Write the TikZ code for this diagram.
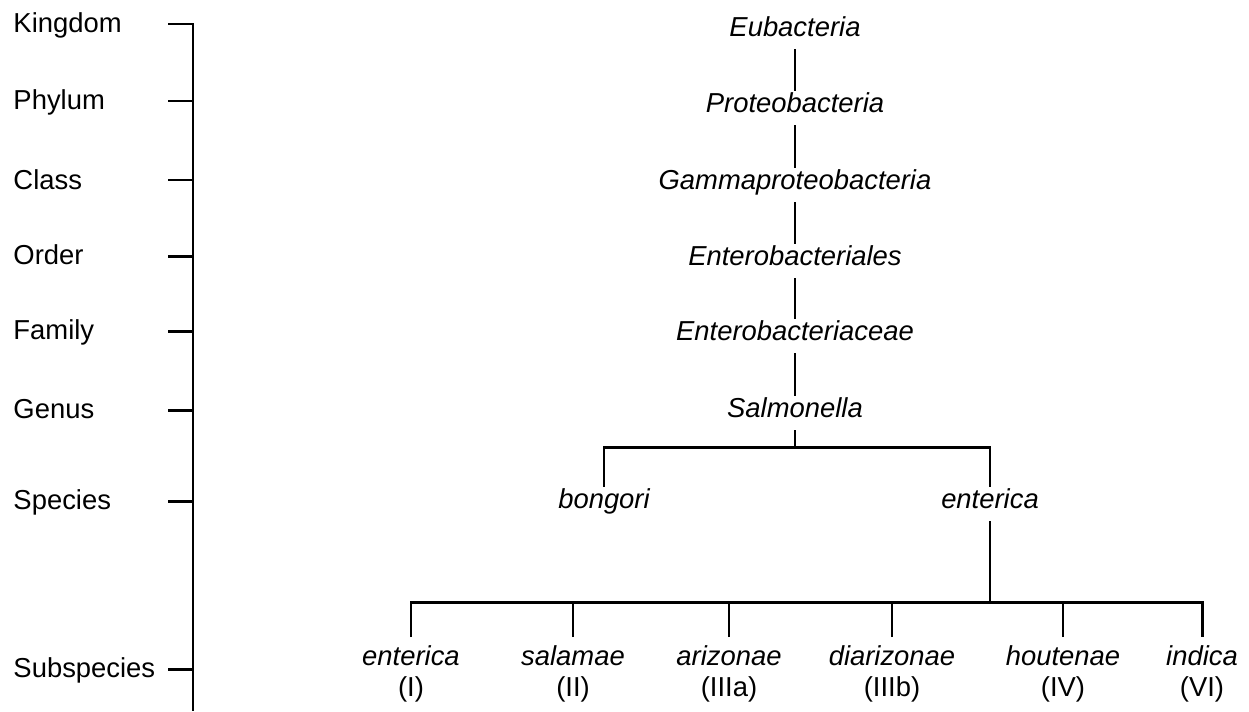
\documentclass[tikz,border=0pt]{standalone}
\usepackage{fontspec}
\setmainfont{Liberation Sans}
\usetikzlibrary{positioning}

\begin{document}
\begin{tikzpicture}[x=0.02cm, y=-0.02cm, line width=1.7pt,
    font=\fontsize{15.6}{17.6}\selectfont,
    rank/.style={anchor=west, inner sep=0pt, text height=0.75em, text depth=0.2em},
    taxon/.style={inner sep=4.2pt, text height=0.75em, text depth=0.2em, font=\fontsize{15.6}{17.6}\selectfont\itshape},
    subsp/.style={anchor=north, inner sep=4pt, align=center}]
  \useasboundingbox (0,0) rectangle (1249,711);
  \draw (168,24) -| (193,711);
  \draw (168,101) -- (193,101);
  \draw (168,180) -- (193,180);
  \draw (168,256) -- (193,256);
  \draw (168,331) -- (193,331);
  \draw (168,410) -- (193,410);
  \draw (168,501) -- (193,501);
  \draw (168,669) -- (193,669);
  \node[rank] (kingdom) at (12,28) {Kingdom};
  \node[rank] (phylum) at (12,105) {Phylum};
  \node[rank] (class) at (12,185) {Class};
  \node[rank] (order) at (12,260) {Order};
  \node[rank] (family) at (12,335) {Family};
  \node[rank] (genus) at (12,414) {Genus};
  \node[rank] (species) at (12,505) {Species};
  \node[rank] (subspecies) at (12,673) {Subspecies};
  \node[taxon] (eubact) at (795,32) {Eubacteria};
  \node[taxon] (proteo) at (795,108) {Proteobacteria};
  \node[taxon] (gamma) at (795,185) {Gammaproteobacteria};
  \node[taxon] (entales) at (795,261) {Enterobacteriales};
  \node[taxon] (entceae) at (795,336) {Enterobacteriaceae};
  \node[taxon] (salm) at (795,413) {Salmonella};
  \node[taxon] (bongori) at (604,504) {bongori};
  \node[taxon] (enterica) at (990,504) {enterica};
  \node[subsp] (ssI) at (411,637) {\textit{enterica}\\(I)};
  \node[subsp] (ssII) at (573,637) {\textit{salamae}\\(II)};
  \node[subsp] (ssIIIa) at (729,637) {\textit{arizonae}\\(IIIa)};
  \node[subsp] (ssIIIb) at (892,637) {\textit{diarizonae}\\(IIIb)};
  \node[subsp] (ssIV) at (1063,637) {\textit{houtenae}\\(IV)};
  \node[subsp] (ssVI) at (1202,637) {\textit{indica}\\(VI)};
  \coordinate (spjoin) at (795,447);
  \coordinate (ssjoin) at (990,602);
  \draw (eubact) -- (proteo);
  \draw (proteo) -- (gamma);
  \draw (gamma) -- (entales);
  \draw (entales) -- (entceae);
  \draw (entceae) -- (salm);
  \draw (salm) -- (spjoin);
  \draw (bongori.north) -- (bongori.north |- spjoin) -- (enterica.north |- spjoin) -- (enterica.north);
  \draw (enterica) -- (ssjoin);
  \draw (ssI.north) -- (ssI.north |- ssjoin) -- (ssVI.north |- ssjoin) -- (ssVI.north);
  \draw (ssII.north) -- (ssII.north |- ssjoin);
  \draw (ssIIIa.north) -- (ssIIIa.north |- ssjoin);
  \draw (ssIIIb.north) -- (ssIIIb.north |- ssjoin);
  \draw (ssIV.north) -- (ssIV.north |- ssjoin);
\end{tikzpicture}
\end{document}
